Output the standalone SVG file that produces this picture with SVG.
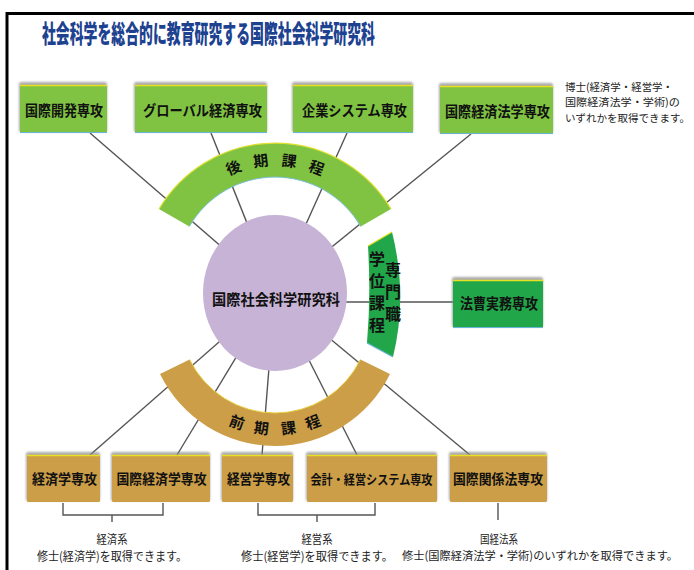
<svg xmlns="http://www.w3.org/2000/svg" width="694" height="570" viewBox="0 0 694 570">
<defs>
<filter id="sh" x="-10%" y="-20%" width="120%" height="140%"><feGaussianBlur stdDeviation="1.2"/></filter>
<style>
.t{font-family:"Noto Sans CJK JP","Noto Sans CJK SC",sans-serif;font-weight:bold;fill:#111;dominant-baseline:central;text-anchor:middle}
.n{font-family:"Noto Sans CJK JP","Noto Sans CJK SC",sans-serif;fill:#222;dominant-baseline:central;font-size:12px}
.bx{font-size:14.5px}
.bb{font-size:14px}
.ln{stroke:#555;stroke-width:1.4;fill:none}
.g{fill:#80c342}
.dg{fill:#22a64a}
.tan{fill:#cc9e48}
.shd{fill:#888;opacity:0.7;filter:url(#sh)}
.yl{stroke:#e8e020;stroke-width:1.5}
.bl{stroke:#6ab4d4;stroke-width:1}
.vt{font-family:"Noto Sans CJK JP","Noto Sans CJK SC",sans-serif;font-weight:bold;fill:#111;font-size:16px;writing-mode:vertical-rl;letter-spacing:6px}
</style>
</defs>
<rect width="694" height="570" fill="#fff"/>
<path d="M7,570 V13.5 H694" fill="none" stroke="#000" stroke-width="3"/>
<text class="t" x="208.5" y="32" font-size="25" style="fill:#1d4290;font-weight:900" textLength="333" lengthAdjust="spacingAndGlyphs">社会科学を総合的に教育研究する国際社会科学研究科</text>

<g id="connectors">
<line class="ln" x1="90" y1="133" x2="275" y2="293"/>
<line class="ln" x1="211" y1="133" x2="275" y2="293"/>
<line class="ln" x1="347" y1="133" x2="275" y2="293"/>
<line class="ln" x1="471" y1="134" x2="275" y2="293"/>
<line class="ln" x1="275" y1="302" x2="453" y2="302"/>
<line class="ln" x1="275" y1="293" x2="90" y2="455"/>
<line class="ln" x1="275" y1="293" x2="177" y2="455"/>
<line class="ln" x1="275" y1="293" x2="262" y2="455"/>
<line class="ln" x1="275" y1="293" x2="357" y2="455"/>
<line class="ln" x1="275" y1="293" x2="470" y2="455"/>
<path class="ln" d="M63,503 V515 H163 V503 M112,515 V522"/>
<path class="ln" d="M258,503 V515 H375 V503 M317,515 V522"/>
<path class="ln" d="M498,503 V520"/>
</g>

<g id="band-upper">
<path class="g" d="M159,209 A135 135 0 0 1 391,209 L360.7,226.5 A99 99 0 0 0 189.3,226.5 Z"/>
<path d="M159,209 A135 135 0 0 1 391,209" fill="none" stroke="#e0e030" stroke-width="1.2"/>
<path d="M360.7,226.5 A99 99 0 0 0 189.3,226.5" fill="none" stroke="#7ac0d8" stroke-width="1"/>
<text class="t" font-size="15" x="275" y="159" transform="rotate(-21 275 276)">後</text>
<text class="t" font-size="15" x="275" y="159" transform="rotate(-7 275 276)">期</text>
<text class="t" font-size="15" x="275" y="159" transform="rotate(7 275 276)">課</text>
<text class="t" font-size="15" x="275" y="159" transform="rotate(21 275 276)">程</text>
</g>

<g id="band-lower">
<path class="tan" d="M160,374.1 A128 128 0 0 0 390,374.1 L360.4,359.6 A95 95 0 0 1 189.6,359.6 Z"/>
<path d="M360.4,359.6 A95 95 0 0 1 189.6,359.6" fill="none" stroke="#e8d040" stroke-width="1"/>
<text class="t" font-size="15" x="275" y="428" transform="rotate(20 275 318)">前</text>
<text class="t" font-size="15" x="275" y="428" transform="rotate(7 275 318)">期</text>
<text class="t" font-size="15" x="275" y="428" transform="rotate(-7 275 318)">課</text>
<text class="t" font-size="15" x="275" y="428" transform="rotate(-20 275 318)">程</text>
</g>

<g id="band-prof">
<path class="dg" d="M368,246 Q371,296 367,343 L393,357 Q408,296 392,232 Z"/>
<path d="M368,246 L392,232" stroke="#e8e020" stroke-width="1.2"/>
<path d="M367,343 L393,357" stroke="#6ab4d4" stroke-width="1.2"/>
<text class="vt" x="393" y="262">専門職</text>
<text class="vt" x="377" y="251">学位課程</text>
</g>

<g id="center">
<ellipse cx="275" cy="293" rx="72" ry="78" fill="#c7b3d5"/>
<text class="t" font-size="15" x="276" y="298" textLength="128" lengthAdjust="spacingAndGlyphs">国際社会科学研究科</text>
</g>

<g id="node-kokusai-kaihatsu">
<rect class="shd" x="19" y="82" width="88" height="50" rx="2"/>
<rect class="g" x="20" y="85" width="87" height="48" rx="1.5"/>
<line class="yl" x1="20" y1="85.5" x2="107" y2="85.5"/>
<line class="bl" x1="20" y1="132.5" x2="107" y2="132.5"/>
<text class="t bx" x="64" y="109.5" textLength="78" lengthAdjust="spacingAndGlyphs">国際開発専攻</text>
</g>
<g id="node-global">
<rect class="shd" x="134" y="82" width="133" height="50" rx="2"/>
<rect class="g" x="135" y="85" width="132" height="48" rx="1.5"/>
<line class="yl" x1="135" y1="85.5" x2="267" y2="85.5"/>
<line class="bl" x1="135" y1="132.5" x2="267" y2="132.5"/>
<text class="t bx" x="202.5" y="109.5" textLength="119" lengthAdjust="spacingAndGlyphs">グローバル経済専攻</text>
</g>
<g id="node-kigyo">
<rect class="shd" x="292" y="82" width="121" height="50" rx="2"/>
<rect class="g" x="293" y="85" width="120" height="48" rx="1.5"/>
<line class="yl" x1="293" y1="85.5" x2="413" y2="85.5"/>
<line class="bl" x1="293" y1="132.5" x2="413" y2="132.5"/>
<text class="t bx" x="354.5" y="109.5" textLength="105" lengthAdjust="spacingAndGlyphs">企業システム専攻</text>
</g>
<g id="node-keizaihou">
<rect class="shd" x="439" y="83" width="114" height="50" rx="2"/>
<rect class="g" x="440" y="86" width="113" height="48" rx="1.5"/>
<line class="yl" x1="440" y1="86.5" x2="553" y2="86.5"/>
<line class="bl" x1="440" y1="133.5" x2="553" y2="133.5"/>
<text class="t bx" x="497.5" y="110" textLength="105" lengthAdjust="spacingAndGlyphs">国際経済法学専攻</text>
</g>
<g id="note-doctor">
<text class="n" x="565" y="86" style="font-size:10.5px" textLength="108" lengthAdjust="spacingAndGlyphs">博士(経済学・経営学・</text>
<text class="n" x="565" y="101.5" style="font-size:10.5px" textLength="115" lengthAdjust="spacingAndGlyphs">国際経済法学・学術)の</text>
<text class="n" x="565" y="117" style="font-size:10.5px" textLength="125" lengthAdjust="spacingAndGlyphs">いずれかを取得できます。</text>
</g>

<g id="node-housou">
<rect class="shd" x="452" y="277" width="91" height="50" rx="2"/>
<rect class="dg" x="453" y="280" width="90" height="48" rx="1.5"/>
<line class="yl" x1="453" y1="280.5" x2="543" y2="280.5"/>
<line class="bl" x1="453" y1="327.5" x2="543" y2="327.5"/>
<text class="t bx" x="499" y="302" textLength="78" lengthAdjust="spacingAndGlyphs">法曹実務専攻</text>
</g>

<g id="node-keizai">
<rect class="shd" x="26" y="452" width="74" height="49" rx="2"/>
<rect class="tan" x="27" y="455" width="73" height="47" rx="1.5"/>
<line class="yl" x1="27" y1="455.5" x2="100" y2="455.5"/>
<text class="t bb" x="64.5" y="478" textLength="65" lengthAdjust="spacingAndGlyphs">経済学専攻</text>
</g>
<g id="node-kokusai-keizai">
<rect class="shd" x="111" y="452" width="99" height="49" rx="2"/>
<rect class="tan" x="112" y="455" width="98" height="47" rx="1.5"/>
<line class="yl" x1="112" y1="455.5" x2="210" y2="455.5"/>
<text class="t bb" x="161.5" y="478" textLength="90" lengthAdjust="spacingAndGlyphs">国際経済学専攻</text>
</g>
<g id="node-keiei">
<rect class="shd" x="221" y="452" width="72" height="49" rx="2"/>
<rect class="tan" x="222" y="455" width="71" height="47" rx="1.5"/>
<line class="yl" x1="222" y1="455.5" x2="293" y2="455.5"/>
<text class="t bb" x="258.5" y="478" textLength="63" lengthAdjust="spacingAndGlyphs">経営学専攻</text>
</g>
<g id="node-kaikei">
<rect class="shd" x="306" y="452" width="131" height="49" rx="2"/>
<rect class="tan" x="307" y="455" width="130" height="47" rx="1.5"/>
<line class="yl" x1="307" y1="455.5" x2="437" y2="455.5"/>
<text class="t" style="font-size:13px" x="371.5" y="478" textLength="122" lengthAdjust="spacingAndGlyphs">会計・経営システム専攻</text>
</g>
<g id="node-kankeihou">
<rect class="shd" x="449" y="452" width="98" height="49" rx="2"/>
<rect class="tan" x="450" y="455" width="97" height="47" rx="1.5"/>
<line class="yl" x1="450" y1="455.5" x2="547" y2="455.5"/>
<text class="t bb" x="498" y="478" textLength="90" lengthAdjust="spacingAndGlyphs">国際関係法専攻</text>
</g>

<g id="notes-master">
<text class="n" x="112" y="538" text-anchor="middle" textLength="31" lengthAdjust="spacingAndGlyphs">経済系</text>
<text class="n" x="112" y="555" text-anchor="middle" textLength="150" lengthAdjust="spacingAndGlyphs">修士(経済学)を取得できます。</text>
<text class="n" x="317" y="538" text-anchor="middle" textLength="31" lengthAdjust="spacingAndGlyphs">経営系</text>
<text class="n" x="317" y="555" text-anchor="middle" textLength="152" lengthAdjust="spacingAndGlyphs">修士(経営学)を取得できます。</text>
<text class="n" x="499" y="538" text-anchor="middle" textLength="38" lengthAdjust="spacingAndGlyphs">国経法系</text>
<text class="n" x="540" y="555" text-anchor="middle" style="font-size:11.5px" textLength="276" lengthAdjust="spacingAndGlyphs">修士(国際経済法学・学術)のいずれかを取得できます。</text>
</g>
</svg>
